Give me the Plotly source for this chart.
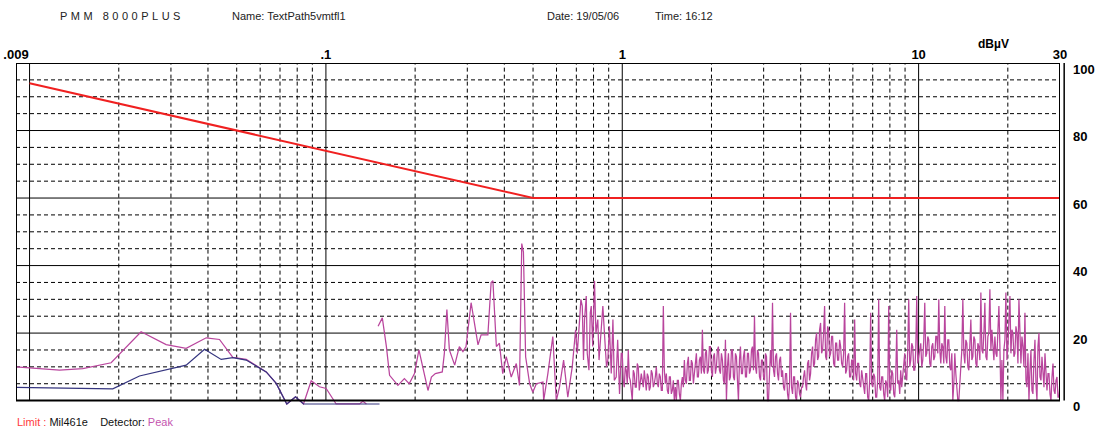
import numpy as np
import plotly.graph_objects as go

# ---------------- data ----------------
# Limit line (MIL-STD-461E CE102)
limit_freq = [0.01, 0.5, 30.0]
limit_val = [94.0, 60.0, 60.0]

# Blue (average-like) trace, 9 kHz .. 150 kHz
blue_freq = [0.009, 0.0135, 0.01909, 0.02349, 0.02966, 0.03377, 0.03895, 0.04432,
             0.04851, 0.05383, 0.06289, 0.06797, 0.07379, 0.07895, 0.08402, 0.1517]
blue_val = [3.9, 3.8, 3.5, 7.3, 9.5, 10.5, 15.2, 12.2,
            12.7, 12.0, 8.5, 5.1, -1.0, 1.1, -1.0, -1.0]

# Peak trace, low band (9 kHz .. 150 kHz)
peak_lo_freq = [0.009, 0.01053, 0.01262, 0.01512, 0.01885, 0.02379, 0.0289, 0.03377,
                0.03945, 0.04374, 0.04851, 0.05383, 0.06289, 0.06797, 0.0738, 0.0790,
                0.0840, 0.0892, 0.0951, 0.1002, 0.1083, 0.1298, 0.1333, 0.137]
peak_lo_val = [10.0, 9.5, 9.0, 9.5, 11.2, 20.4, 16.6, 15.5,
               18.6, 18.1, 12.8, 12.2, 8.5, 5.1, -1.0, 1.1,
               -1.0, 5.9, 4.1, 3.6, -1.0, -1.0, -0.2, -1.0]

# Peak trace, mid band (150 kHz .. 1 MHz)
peak_mid_freq = [0.150, 0.155, 0.160, 0.164, 0.175, 0.184, 0.191, 0.199, 0.206, 0.212,
                 0.221, 0.227, 0.234, 0.247, 0.251, 0.256, 0.261, 0.272, 0.282, 0.290,
                 0.297, 0.309, 0.326, 0.334, 0.352, 0.361, 0.366, 0.376, 0.385, 0.395,
                 0.406, 0.422, 0.439, 0.450, 0.458, 0.464, 0.472, 0.487, 0.499, 0.513,
                 0.540, 0.543, 0.561, 0.583, 0.599, 0.614, 0.634, 0.655, 0.678, 0.696,
                 0.705, 0.718, 0.725, 0.733, 0.740, 0.746, 0.756, 0.762, 0.772, 0.780,
                 0.786, 0.795, 0.806, 0.815, 0.827, 0.835, 0.849, 0.860, 0.872, 0.885,
                 0.894, 0.905, 0.918, 0.930, 0.940, 0.954, 0.965, 0.979, 0.992]
peak_mid_val = [22.0, 24.5, 16.0, 7.5, 4.5, 6.5, 5.0, 8.0, 15.0, 10.0,
                3.0, 7.0, 8.0, 8.5, 14.0, 27.0, 15.0, 10.5, 16.0, 14.5,
                16.0, 29.0, 16.5, 19.5, 19.5, 35.0, 35.5, 16.0, 17.0, 8.0,
                13.0, 7.0, 11.0, 4.5, 46.5, 44.0, 13.0, 5.0, 2.5, 5.0,
                5.5, 0.0, 8.0, 19.0, 0.0, 4.0, 12.0, 1.0, 10.0, 21.0,
                14.0, 24.0, 30.0, 28.0, 12.0, 24.0, 31.0, 14.0, 9.0, 26.0,
                28.0, 16.0, 35.5, 20.0, 24.0, 12.0, 21.0, 28.0, 19.0, 10.0,
                12.0, 22.0, 8.0, 24.0, 6.0, 7.0, 18.0, 2.0, 14.0]

# Peak trace, high band (1 MHz .. 30 MHz), log-spaced sweep points
peak_hi_start, peak_hi_stop = 1.0, 30.0
peak_hi_val = [
    14, 6, 4, 10, 9, 5, 15, 7, 6, 3, 0, 9, 8, 4, 4, 11, 10, 3, 5, 8,
    6, 4, 9, 5, 3, 8, 7, 3, 4, 9, 8, 4, 5, 7, 10, 5, 4, 8, 7, 3,
    3, 28, 9, 5, 8, 3, 2, 7, 7, 2, 3, 6, 0, 4, 0, 6, 6, 2, 0, 5,
    7, 4, 12, 6, 5, 11, 13, 6, 6, 12, 11, 5, 8, 13, 14, 7, 7, 12, 13, 8,
    21, 9, 8, 14, 15, 8, 9, 16, 16, 9, 7, 13, 14, 8, 10, 15, 16, 9, 8, 14,
    12, 6, 5, 18, 0, 10, 14, 6, 7, 15, 15, 7, 6, 14, 13, 6, 0, 12, 16, 8,
    8, 13, 15, 7, 7, 14, 14, 8, 9, 15, 16, 9, 25, 10, 8, 15, 14, 7, 6, 12,
    12, 7, 6, 14, 13, 0, 0, 8, 15, 10, 29, 9, 7, 13, 14, 8, 6, 12, 13, 7,
    9, 4, 3, 8, 8, 2, 0, 5, 26, 4, 2, 7, 7, 1, 0, 6, 5, 2, 1, 4,
    4, 7, 9, 5, 3, 11, 12, 6, 8, 14, 16, 10, 11, 18, 20, 12, 13, 21, 23, 14,
    15, 20, 28, 13, 12, 22, 21, 13, 14, 19, 19, 11, 10, 17, 17, 12, 12, 18, 16, 11,
    10, 14, 29, 8, 9, 13, 14, 7, 7, 12, 12, 6, 24, 8, 6, 11, 11, 5, 4, 9,
    6, 3, 2, 8, 8, 1, 0, 6, 26, 5, 4, 8, 7, 1, 1, 6, 30, 4, 3, 7,
    7, 2, 0, 6, 5, 1, 28, 4, 3, 9, 8, 2, 1, 7, 21, 5, 6, 2, 9, 4,
    8, 12, 14, 7, 6, 15, 30, 10, 12, 17, 16, 9, 9, 15, 31, 11, 13, 16, 17, 10,
    12, 18, 29, 13, 14, 19, 18, 11, 10, 16, 17, 12, 13, 19, 19, 14, 30, 15, 11, 17,
    16, 11, 28, 13, 11, 18, 18, 10, 9, 14, 0, 5, 14, 8, 3, 0, 0, 6, 12, 15,
    30, 14, 11, 18, 17, 10, 9, 15, 24, 12, 13, 19, 18, 11, 10, 17, 16, 12, 32, 15,
    14, 20, 29, 13, 12, 19, 20, 33, 15, 21, 15, 12, 19, 14, 13, 20, 28, 16, 0, 12,
    0, 15, 18, 32, 12, 16, 22, 31, 14, 21, 20, 13, 14, 22, 20, 11, 30, 17, 11, 19,
    16, 10, 26, 6, 4, 14, 0, 9, 15, 3, 2, 12, 18, 5, 0, 16, 20, 7, 6, 13,
    9, 4, 14, 6, 3, 8, 8, 2, 0, 7, 11, 3, 2, 6, 7, 1, 1, 5,
]
peak_hi_freq = list(np.logspace(np.log10(peak_hi_start), np.log10(peak_hi_stop), len(peak_hi_val)))

x_tick_vals = [0.009, 0.1, 1, 10, 30]
x_tick_text = [".009", ".1", "1", "10", "30"]
y_tick_vals = [0, 20, 40, 60, 80, 100]

# ---------------- figure ----------------
PEAK_COLOR = "#b9459d"
BLUE_COLOR = "#34347f"
RED_COLOR = "#f02020"

fig = go.Figure()

peak_x = peak_lo_freq + [None] + peak_mid_freq + peak_hi_freq
peak_y = peak_lo_val + [None] + peak_mid_val + peak_hi_val
fig.add_trace(go.Scatter(x=peak_x, y=peak_y, mode="lines", connectgaps=False,
                         line=dict(color=PEAK_COLOR, width=1.25), hoverinfo="skip"))
fig.add_trace(go.Scatter(x=blue_freq, y=blue_val, mode="lines",
                         line=dict(color=BLUE_COLOR, width=1.2), hoverinfo="skip"))
fig.add_trace(go.Scatter(x=limit_freq, y=limit_val, mode="lines",
                         line=dict(color=RED_COLOR, width=2), hoverinfo="skip"))

shapes = []
DASH = "4px,3px"
# vertical grid
for dec in [0.01, 0.1, 1, 10]:
    shapes.append(dict(type="line", xref="x", yref="y", x0=dec, x1=dec, y0=0, y1=100,
                       line=dict(color="black", width=1), layer="below"))
    for m in range(2, 10):
        f = dec * m
        if f > 30:
            break
        shapes.append(dict(type="line", xref="x", yref="y", x0=f, x1=f, y0=0, y1=100,
                           line=dict(color="black", width=1, dash=DASH), layer="below"))
# horizontal grid
for v in range(5, 100, 5):
    if v % 20 == 0:
        ln = dict(color="black", width=1)
    else:
        ln = dict(color="black", width=1, dash=DASH)
    shapes.append(dict(type="line", xref="x", yref="y", x0=0.009, x1=30, y0=v, y1=v,
                       line=ln, layer="below"))
# frame
shapes.append(dict(type="rect", xref="x", yref="y", x0=0.009, x1=30, y0=0, y1=100,
                   line=dict(color="black", width=2), layer="above"))
shapes.append(dict(type="line", xref="paper", yref="y", x0=1.004, x1=1.004, y0=0, y1=100,
                   line=dict(color="black", width=1.5), layer="above"))

FONT = "Liberation Sans, Arial, sans-serif"

def px_x(px):
    return (px - 16) / 1044.0

def px_y(py):
    return (405 - py) / 342.0

annotations = [
    dict(text="<span style='letter-spacing:3.5px'>PMM 8000PLUS</span>",
         x=px_x(58), y=px_y(16), xanchor="left", yanchor="middle",
         font=dict(family=FONT, size=11, color="#222")),
    dict(text="Name: TextPath5vmtfl1", x=px_x(230), y=px_y(16), xanchor="left", yanchor="middle",
         font=dict(family=FONT, size=11, color="#222")),
    dict(text="Date: 19/05/06", x=px_x(545), y=px_y(16), xanchor="left", yanchor="middle",
         font=dict(family=FONT, size=11, color="#222")),
    dict(text="Time: 16:12", x=px_x(653), y=px_y(16), xanchor="left", yanchor="middle",
         font=dict(family=FONT, size=11, color="#222")),
    dict(text="dBµV", x=px_x(993), y=px_y(44), xanchor="center", yanchor="middle",
         font=dict(family=FONT, size=12, color="black", weight="bold")),
    dict(text=("<span style='color:#ff3b3b'>Limit : </span>"
               "<span style='color:#111'>Mil461e</span>"
               "<span style='color:#111'>&nbsp;&nbsp;&nbsp;&nbsp;Detector: </span>"
               "<span style='color:#c455b0'>Peak</span>"),
         x=px_x(15), y=px_y(422), xanchor="left", yanchor="middle",
         font=dict(family=FONT, size=11)),
]
for a in annotations:
    a.update(xref="paper", yref="paper", showarrow=False)

fig.update_layout(
    width=1101, height=431,
    margin=dict(l=16, r=41, t=63, b=26, autoexpand=False),
    paper_bgcolor="white", plot_bgcolor="white",
    showlegend=False,
    shapes=shapes,
    annotations=annotations,
    xaxis=dict(type="log", range=[np.log10(0.009), np.log10(30)], side="top",
               tickvals=x_tick_vals, ticktext=x_tick_text, showgrid=False,
               zeroline=False, showline=False, ticks="", ticklabelstandoff=0,
               automargin=False,
               tickfont=dict(family=FONT, size=13, color="black", weight="bold")),
    yaxis=dict(range=[-1.3, 100], side="right", tickvals=y_tick_vals, showgrid=False,
               zeroline=False, showline=False, ticks="", ticklabelstandoff=12,
               ticklabelshift=6, automargin=False,
               tickfont=dict(family=FONT, size=13, color="black", weight="bold")),
)

fig.write_html(
    "out.html",
    config={"displayModeBar": False},
    post_script="document.body.style.margin='0';document.body.style.overflow='hidden';",
)
